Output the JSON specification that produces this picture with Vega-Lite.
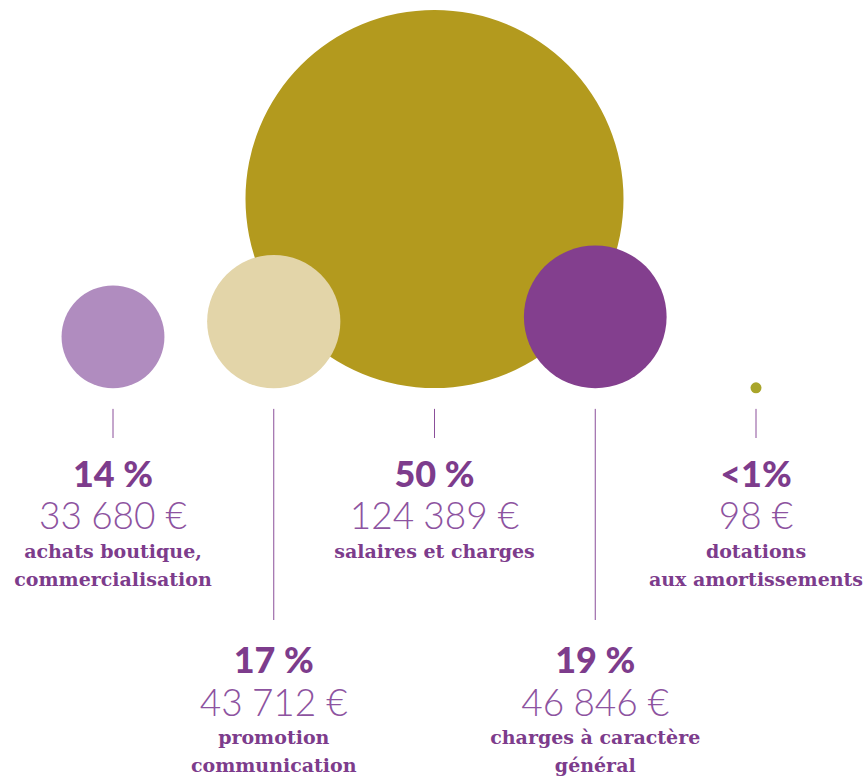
{
  "$schema": "https://vega.github.io/schema/vega-lite/v6.json",
  "width": 865,
  "height": 776,
  "autosize": {"type": "none"},
  "padding": 0,
  "background": "#ffffff",
  "config": {
    "view": {"stroke": null},
    "locale": {
      "number": {"decimal": ",", "thousands": "\u202f", "grouping": [3], "currency": ["", " €"]}
    }
  },
  "data": {
    "values": [
      {"poste": "salaires", "part": "50 %", "montant": 124389, "libelle": "salaires et charges", "niveau": 0},
      {"poste": "achats", "part": "14 %", "montant": 33680, "libelle": "achats boutique,\ncommercialisation", "niveau": 0},
      {"poste": "promotion", "part": "17 %", "montant": 43712, "libelle": "promotion\ncommunication", "niveau": 1},
      {"poste": "charges", "part": "19 %", "montant": 46846, "libelle": "charges à caractère\ngénéral", "niveau": 1},
      {"poste": "dotations", "part": "<1%", "montant": 98, "libelle": "dotations\naux amortissements", "niveau": 0}
    ]
  },
  "encoding": {
    "x": {
      "field": "poste",
      "type": "nominal",
      "scale": {"type": "point", "domain": ["achats", "promotion", "salaires", "charges", "dotations"], "range": [113, 756], "padding": 0},
      "axis": null
    }
  },
  "layer": [
    {
      "mark": {"type": "circle", "opacity": 1},
      "encoding": {
        "y": {"field": "montant", "type": "quantitative", "scale": {"domain": [0, 124389], "range": [388, 199], "zero": false, "nice": false}, "axis": null},
        "size": {"field": "montant", "type": "quantitative", "scale": {"type": "pow", "exponent": 2, "domain": [0, 124389], "range": [121, 142884], "zero": false, "nice": false}, "legend": null},
        "color": {"field": "poste", "type": "nominal", "scale": {"domain": ["achats", "promotion", "salaires", "charges", "dotations"], "range": ["#b08cbf", "#e3d5a9", "#b39a1e", "#833f8e", "#a9a52a"]}, "legend": null}
      }
    },
    {
      "mark": {"type": "rule", "color": "#8b4f9a", "strokeWidth": 1},
      "encoding": {
        "y": {"field": "niveau", "type": "quantitative", "scale": {"domain": [0, 1], "range": [438, 620], "zero": false, "nice": false}, "axis": null},
        "y2": {"datum": -0.16}
      }
    },
    {
      "mark": {"type": "text", "align": "center", "baseline": "alphabetic", "font": "Lato", "fontWeight": 900, "fontSize": 36, "color": "#7d3c8c"},
      "encoding": {
        "y": {"field": "niveau", "type": "quantitative", "scale": {"domain": [0, 1], "range": [487, 673], "zero": false, "nice": false}, "axis": null},
        "text": {"field": "part", "type": "nominal"}
      }
    },
    {
      "mark": {"type": "text", "align": "center", "baseline": "alphabetic", "font": "Lato", "fontWeight": 300, "fontSize": 37, "color": "#8d53a0"},
      "encoding": {
        "y": {"field": "niveau", "type": "quantitative", "scale": {"domain": [0, 1], "range": [529, 716], "zero": false, "nice": false}, "axis": null},
        "text": {"field": "montant", "type": "quantitative", "format": "$,d"}
      }
    },
    {
      "mark": {"type": "text", "align": "center", "baseline": "alphabetic", "font": "DejaVu Serif", "fontWeight": "bold", "fontSize": 19, "lineBreak": "\n", "lineHeight": 28, "color": "#7d3c8c"},
      "encoding": {
        "y": {"field": "niveau", "type": "quantitative", "scale": {"domain": [0, 1], "range": [558, 744], "zero": false, "nice": false}, "axis": null},
        "text": {"field": "libelle", "type": "nominal"}
      }
    }
  ],
  "resolve": {"scale": {"y": "independent"}}
}
